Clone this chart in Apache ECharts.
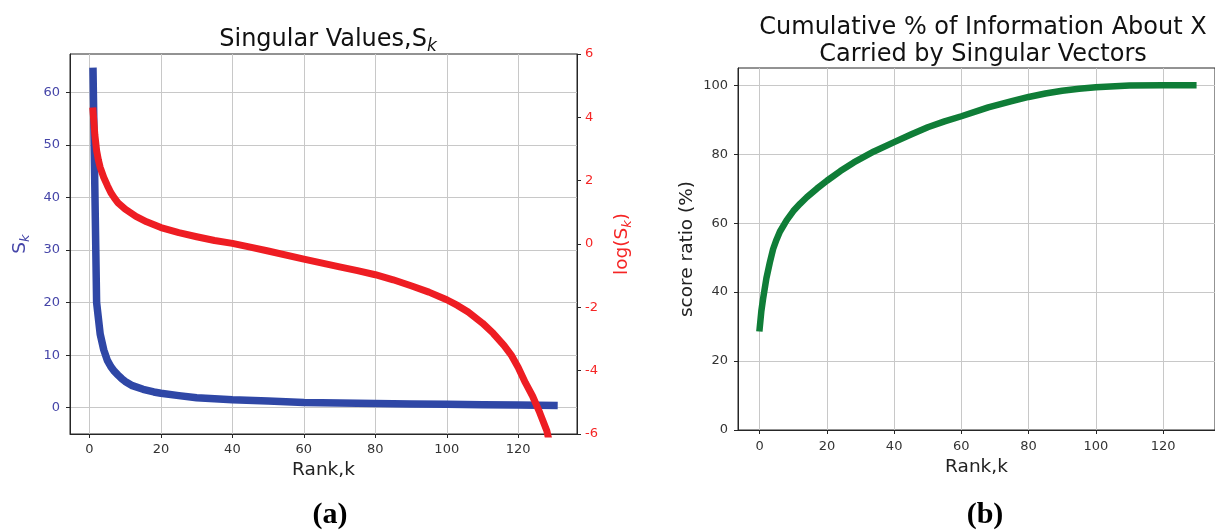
<!DOCTYPE html>
<html><head><meta charset="utf-8">
<script src="https://cdn.jsdelivr.net/npm/echarts@6/dist/echarts.min.js"></script>
<style>html,body{margin:0;padding:0;background:#fff}#c{width:1215px;height:531px}</style>
</head><body><div id="c"></div>
<script>
// ---- tick labels ----
const rankTicks = [0, 20, 40, 60, 80, 100, 120];
const sTicks = [0, 10, 20, 30, 40, 50, 60];
const scoreTicks = [0, 20, 40, 60, 80, 100];

// ---- (a) singular values S_k ----
const sRank = [1, 2, 3, 4, 5, 6, 7, 8, 9, 10, 12, 15, 18, 20, 25, 30, 40, 50, 60, 70, 80, 90, 100, 110, 120, 130];
const sValues = [64, 20, 14, 11, 9, 7.8, 6.9, 6.2, 5.55, 5.0, 4.2, 3.5, 3.0, 2.75, 2.3, 1.9, 1.5, 1.3, 1.0, 0.9, 0.8, 0.72, 0.65, 0.58, 0.52, 0.45];

// ---- (a) log(S_k) ----
const logRank = [1, 1.5, 2, 2.5, 3, 4, 5, 6, 7, 8, 10, 13, 16, 20, 25, 30, 35, 40, 45, 50, 60, 70, 75, 80, 85, 90, 95, 100, 103, 106, 110, 113, 116, 118, 120, 122, 124, 126, 128, 129, 130];
const logValues = [4.2, 3.45, 2.95, 2.65, 2.42, 2.1, 1.85, 1.62, 1.45, 1.3, 1.1, 0.87, 0.7, 0.52, 0.36, 0.23, 0.11, 0.02, -0.1, -0.22, -0.48, -0.72, -0.84, -0.97, -1.13, -1.32, -1.52, -1.76, -1.94, -2.15, -2.5, -2.82, -3.2, -3.5, -3.9, -4.38, -4.8, -5.32, -5.9, -6.4, -7.2];

// ---- (b) cumulative % ----
const cumRank = [0, 0.5, 1, 2, 3, 4, 5, 6, 8, 10, 12, 14, 17, 20, 24, 28, 34, 40, 45, 50, 55, 60, 68, 75, 80, 85, 90, 95, 100, 110, 120, 129];
const cumValues = [29.5, 34.5, 38, 44, 48.5, 52.5, 55.2, 57.5, 60.8, 63.5, 65.6, 67.5, 70, 72.3, 75.1, 77.6, 80.8, 83.5, 85.7, 87.8, 89.5, 91, 93.6, 95.4, 96.6, 97.6, 98.4, 99, 99.4, 99.9, 100, 100];

const zip = (xs, ys) => xs.map((x, i) => [x, ys[i]]);

const FONT = 'DejaVu Sans';
const GRID_C = '#c8c8c8';
const AX_C = '#262626';
const BLUE = '#2f47a6';
const RED = '#ee1d23';
const GREEN = '#0f7d37';
const BLUE_TXT = '#4545a8';
const RED_TXT = '#f52525';

const chart = echarts.init(document.getElementById('c'), null, {renderer: 'canvas'});

const option = {
  animation: false,
  backgroundColor: '#fff',
  textStyle: {fontFamily: FONT},
  title: [
    {
      text: '{m|Singular Values,S}{s|k}',
      left: 323, top: 20, textAlign: 'center',
      textStyle: {
        fontWeight: 'normal',
        rich: {
          m: {fontSize: 24, color: '#111', fontWeight: 'normal', fontFamily: FONT},
          s: {fontSize: 17, fontStyle: 'italic', fontWeight: 'normal', color: '#111', fontFamily: FONT, padding: [13, 0, 0, 0]}
        }
      }
    },
    {
      text: 'Cumulative % of Information About X\nCarried by Singular Vectors',
      left: 978, top: 9, textAlign: 'center',
      textStyle: {fontSize: 24, lineHeight: 27, color: '#111', fontWeight: 'normal', fontFamily: FONT}
    }
  ],
  grid: [
    {left: 70, right: 638, top: 54, bottom: 97, show: true, borderColor: AX_C, borderWidth: 1, backgroundColor: 'transparent'},
    {left: 738, right: -6, top: 68, bottom: 101, show: true, borderColor: AX_C, borderWidth: 1, backgroundColor: 'transparent'}
  ],
  xAxis: [
    {
      type: 'value', gridIndex: 0, min: -5.45, max: 136.45,
      axisLine: {show: true, onZero: false, lineStyle: {color: AX_C}},
      axisTick: {show: true, length: 4, customValues: rankTicks, lineStyle: {color: AX_C}},
      axisLabel: {customValues: rankTicks, margin: 9, fontSize: 13, color: '#333', fontFamily: FONT},
      splitLine: {show: true, lineStyle: {color: GRID_C, width: 1}},
      name: 'Rank,k', nameLocation: 'middle', nameGap: 21,
      nameTextStyle: {fontSize: 18.5, color: '#222', fontFamily: FONT}
    },
    {
      type: 'value', gridIndex: 1, min: -6.45, max: 135.45,
      axisLine: {show: true, onZero: false, lineStyle: {color: AX_C}},
      axisTick: {show: true, length: 4, customValues: rankTicks, lineStyle: {color: AX_C}},
      axisLabel: {customValues: rankTicks, margin: 10, fontSize: 13, color: '#333', fontFamily: FONT},
      splitLine: {show: true, lineStyle: {color: GRID_C, width: 1}},
      name: 'Rank,k', nameLocation: 'middle', nameGap: 27,
      nameTextStyle: {fontSize: 18.5, color: '#222', fontFamily: FONT}
    }
  ],
  yAxis: [
    {
      type: 'value', gridIndex: 0, min: -5, max: 67.3, position: 'left',
      axisLine: {show: true, onZero: false, lineStyle: {color: AX_C}},
      axisTick: {show: true, length: 4, customValues: sTicks, lineStyle: {color: AX_C}},
      axisLabel: {customValues: sTicks, margin: 10, fontSize: 13, color: BLUE_TXT, fontFamily: FONT},
      splitLine: {show: true, lineStyle: {color: GRID_C, width: 1}},
      name: '{m|S}{s|k}', nameLocation: 'middle', nameGap: 38, nameRotate: 90,
      nameTextStyle: {
        rich: {
          m: {fontSize: 18.5, color: BLUE_TXT, fontFamily: FONT},
          s: {fontSize: 13, fontStyle: 'italic', color: BLUE_TXT, fontFamily: FONT, padding: [10, 0, 0, 0]}
        }
      }
    },
    {
      type: 'value', gridIndex: 0, min: -6, max: 6, interval: 2, position: 'right',
      axisLine: {show: true, onZero: false, lineStyle: {color: AX_C}},
      axisTick: {show: true, length: 4, lineStyle: {color: AX_C}},
      axisLabel: {margin: 8, fontSize: 13, color: RED_TXT, fontFamily: FONT},
      splitLine: {show: false},
      name: '{m|log(S}{s|k}{m|)}', nameLocation: 'middle', nameGap: 34, nameRotate: 90,
      nameTextStyle: {
        rich: {
          m: {fontSize: 18.5, color: RED_TXT, fontFamily: FONT},
          s: {fontSize: 13, fontStyle: 'italic', color: RED_TXT, fontFamily: FONT, padding: [10, 0, 0, 0]}
        }
      }
    },
    {
      type: 'value', gridIndex: 1, min: 0, max: 105,
      axisLine: {show: true, onZero: false, lineStyle: {color: AX_C}},
      axisTick: {show: true, length: 4, customValues: scoreTicks, lineStyle: {color: AX_C}},
      axisLabel: {customValues: scoreTicks, margin: 10, fontSize: 13, color: '#333', fontFamily: FONT},
      splitLine: {show: true, lineStyle: {color: GRID_C, width: 1}},
      name: 'score ratio (%)', nameLocation: 'middle', nameGap: 41,
      nameTextStyle: {fontSize: 18.5, color: '#222', fontFamily: FONT}
    }
  ],
  series: [
    {
      name: 'S_k', type: 'line', xAxisIndex: 0, yAxisIndex: 0,
      data: zip(sRank, sValues), showSymbol: false, smooth: false,
      lineStyle: {color: BLUE, width: 7.5, cap: 'square', join: 'round'}, clip: true
    },
    {
      name: 'log(S_k)', type: 'line', xAxisIndex: 0, yAxisIndex: 1,
      data: zip(logRank, logValues), showSymbol: false, smooth: false,
      lineStyle: {color: RED, width: 7, cap: 'square', join: 'round'}, clip: true
    },
    {
      name: 'cumulative', type: 'line', xAxisIndex: 1, yAxisIndex: 2,
      data: zip(cumRank, cumValues), showSymbol: false, smooth: false,
      lineStyle: {color: GREEN, width: 6.5, cap: 'square', join: 'round'}, clip: true
    }
  ],
  graphic: [
    {type: 'text', x: 330, y: 515, style: {text: '(a)', font: 'bold 30px "Liberation Serif"', align: 'center', verticalAlign: 'middle', fill: '#000'}},
    {type: 'text', x: 985, y: 515, style: {text: '(b)', font: 'bold 30px "Liberation Serif"', align: 'center', verticalAlign: 'middle', fill: '#000'}}
  ]
};
chart.setOption(option);
</script>
</body></html>
